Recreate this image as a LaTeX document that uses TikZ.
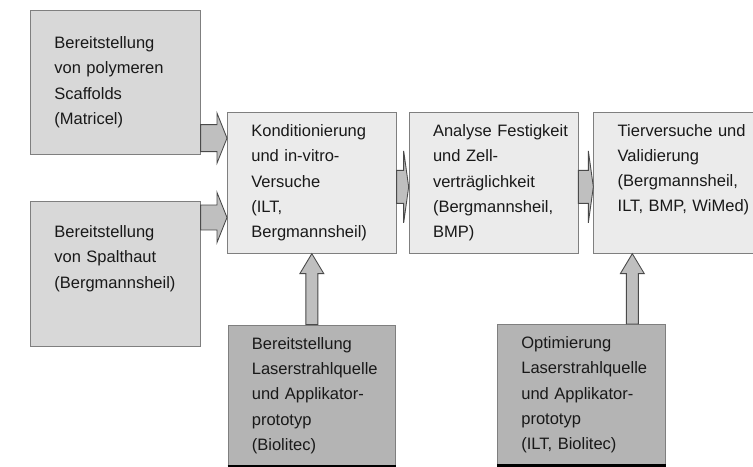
\documentclass[tikz,border=0pt]{standalone}
\usepackage{fontspec}
\setmainfont{Liberation Sans}
\usepackage{xcolor}
\usetikzlibrary{positioning,calc}
\definecolor{frame}{HTML}{7F7F7F}
\definecolor{supply}{HTML}{D8D8D8}
\definecolor{work}{HTML}{EBEBEB}
\definecolor{laser}{HTML}{B4B4B4}
\definecolor{flow}{HTML}{BFBFBF}
\definecolor{edge}{HTML}{4A4A4A}

\begin{document}
\begin{tikzpicture}[
  x=0.02cm, y=-0.02cm,
  font=\fontsize{9.4}{14.4}\selectfont,
  execute at begin node={\hyphenpenalty=10000\leftskip=0.48cm},
  box/.style={draw=frame,align=left,inner xsep=0pt,inner ysep=0pt,text=black!90},
  supbox/.style={box,fill=supply,text width=3.4cm,minimum height=2.88cm},
  workbox/.style={box,fill=work,text width=3.38cm,minimum height=2.82cm},
  laserbox/.style={box,fill=laser,text width=3.36cm,minimum height=2.82cm},
  blk/.style={draw=edge,fill=flow,line width=0.5pt},
  blkr/.style n args={3}{blk,to path={let \p1=(\tikztostart), \p2=(\tikztotarget) in
    (\x1,\y1+#1) -- (\x2-#3,\y2+#1) -- (\x2-#3,\y2+#2) -- (\tikztotarget)
    -- (\x2-#3,\y2-#2) -- (\x2-#3,\y2-#1) -- (\x1,\y1-#1) -- cycle}},
  blku/.style n args={3}{blk,to path={let \p1=(\tikztostart), \p2=(\tikztotarget) in
    (\x1-#1,\y1) -- (\x2-#1,\y2-#3) -- (\x2-#2,\y2-#3) -- (\tikztotarget)
    -- (\x2+#2,\y2-#3) -- (\x2+#1,\y2-#3) -- (\x1+#1,\y1) -- cycle}}]
  \useasboundingbox (0,0) rectangle (753,466);
  \node[supbox,anchor=north west] (scaf) at (30,10) {Bereitstellung\\von polymeren\\Scaffolds\\(Matricel)};
  \node[supbox,anchor=north west,minimum height=2.9cm,text depth=1.69cm] (skin) at (30,201) {Bereitstellung\\von Spalthaut\\(Bergmannsheil)};
  \node[workbox,anchor=north west] (cond) at (227,112) {Konditionierung\\und in-vitro-\\Versuche\\(ILT,\\Bergmannsheil)};
  \node[workbox,right=0.24cm of cond] (anal) {Analyse Festigkeit\\und Zell-\\verträglichkeit\\(Bergmannsheil,\\BMP)};
  \node[workbox,right=0.3cm of anal,text width=3.4cm,text depth=2.11cm] (tier) {Tierversuche und\\Validierung\\(Bergmannsheil,\\ILT, BMP, WiMed)};
  \node[laserbox,below=1.42cm of cond] (lasr) {Bereitstellung\\Laserstrahlquelle\\und Applikator-\\prototyp\\(Biolitec)};
  \node[laserbox,anchor=north west] (optm) at (497,324) {Optimierung\\Laserstrahlquelle\\und Applikator-\\prototyp\\(ILT, Biolitec)};
  \draw[line width=0.06cm] (lasr.south west) -- (lasr.south east);
  \draw[line width=0.06cm] (optm.south west) -- (optm.south east);
  % block arrows
  \coordinate (scafout) at ([yshift=0.33cm]scaf.south east);
  \coordinate (skinout) at ([yshift=-0.33cm]skin.north east);
  \coordinate (condout) at ([yshift=-0.08cm]cond.east);
  \coordinate (analout) at ([yshift=-0.08cm]anal.east);
  \coordinate (optmout) at ([xshift=1.02cm]optm.north);
  \draw[blkr={0.27cm}{0.5cm}{0.2cm}] (scafout) to (cond.west |- scafout);
  \draw[blkr={0.25cm}{0.5cm}{0.2cm}] (skinout) to (cond.west |- skinout);
  \draw[blkr={0.33cm}{0.72cm}{0.1cm}] (condout) to (anal.west |- condout);
  \draw[blkr={0.33cm}{0.72cm}{0.1cm}] (analout) to (tier.west |- analout);
  \draw[blku={0.12cm}{0.24cm}{0.4cm}] (lasr.north) to (cond.south);
  \draw[blku={0.12cm}{0.24cm}{0.4cm}] (optmout) to (tier.south -| optmout);
\end{tikzpicture}
\end{document}
